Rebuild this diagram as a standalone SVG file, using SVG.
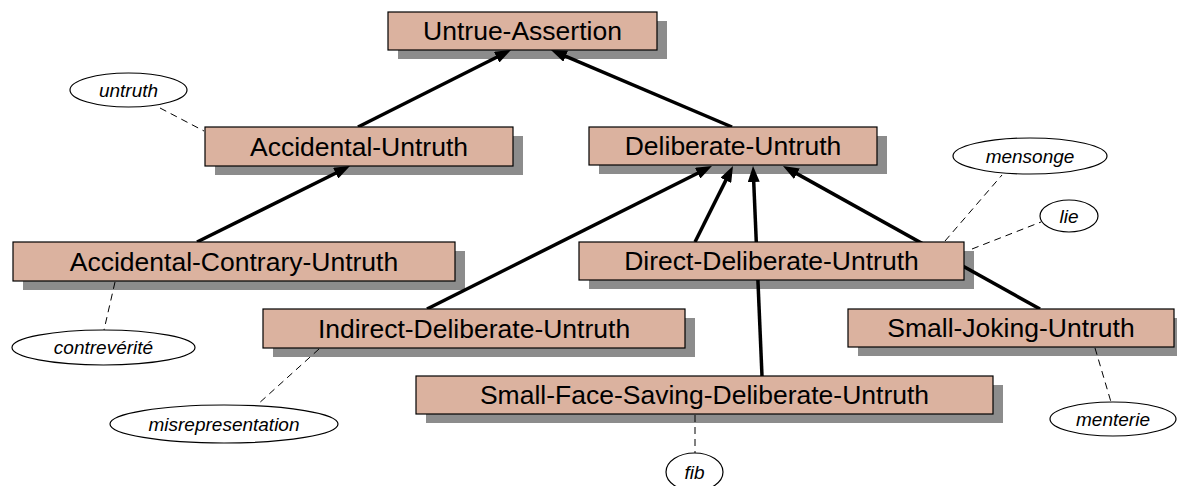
<svg xmlns="http://www.w3.org/2000/svg" width="1177" height="486" viewBox="0 0 1177 486">
  <style>
    .shadow { fill: #8c8c8c; }
    .box { fill: #dbb29f; stroke: #000; stroke-width: 1.2; }
    .label { font-family: "Liberation Sans", Arial, sans-serif; font-size: 26.5px; fill: #000; text-anchor: middle; }
    .isa { stroke: #000; stroke-width: 3.5; fill: none; marker-end: url(#head); }
    .gloss { stroke: #000; stroke-width: 1; stroke-dasharray: 7 5; fill: none; }
    .term { fill: #fff; stroke: #000; stroke-width: 1.2; }
    .term-text { font-family: "Liberation Sans", Arial, sans-serif; font-size: 19px; font-style: italic; fill: #000; text-anchor: middle; }
  </style>
  <defs>
    <marker id="head" markerUnits="userSpaceOnUse" viewBox="0 0 16 12" markerWidth="16" markerHeight="12" refX="10" refY="6" orient="auto">
      <path d="M0,0 L16,6 L0,12 z" fill="#000"/>
    </marker>
  </defs>

  <rect width="1177" height="486" fill="#fff"/>

  <!-- drop shadows sit beneath the connectors -->
  <g id="shadows">
    <rect class="shadow" x="398" y="21" width="269" height="38"/>
    <rect class="shadow" x="215" y="136" width="308" height="39"/>
    <rect class="shadow" x="599" y="136" width="288" height="38"/>
    <rect class="shadow" x="23" y="251" width="442" height="39"/>
    <rect class="shadow" x="589" y="251" width="385" height="38"/>
    <rect class="shadow" x="273" y="318" width="422" height="39"/>
    <rect class="shadow" x="858" y="318" width="326" height="38"/>
    <rect class="shadow" x="426" y="385" width="577" height="38"/>
  </g>

  <g id="connectors">
    <!-- subclass links -->
    <line class="isa" x1="358" y1="127" x2="505.6" y2="52.7"/>
    <line class="isa" x1="732" y1="127" x2="556.5" y2="52.3"/>
    <line class="isa" x1="197" y1="242" x2="344.6" y2="168.7"/>
    <line class="isa" x1="427" y1="309" x2="706.6" y2="168.7"/>
    <line class="isa" x1="695" y1="242" x2="730.3" y2="171.4"/>
    <line class="isa" x1="762" y1="376" x2="753.3" y2="172"/>
    <line class="isa" x1="1040" y1="309" x2="788.2" y2="168.9"/>
    <!-- word links -->
    <line class="gloss" x1="160" y1="108" x2="204" y2="131"/>
    <line class="gloss" x1="115" y1="282" x2="104" y2="330"/>
    <line class="gloss" x1="319" y1="349" x2="257" y2="405"/>
    <line class="gloss" x1="695" y1="415" x2="695" y2="453"/>
    <line class="gloss" x1="1095" y1="348" x2="1111" y2="402"/>
    <line class="gloss" x1="945" y1="241" x2="1002" y2="175"/>
    <line class="gloss" x1="972" y1="249" x2="1041" y2="222"/>
  </g>

  <g id="untrue-assertion">
    <rect class="box" x="388" y="12" width="269" height="38"/>
    <text class="label" x="522.5" y="40">Untrue-Assertion</text>
  </g>
  <g id="accidental-untruth">
    <rect class="box" x="205" y="127" width="308" height="39"/>
    <text class="label" x="359" y="156">Accidental-Untruth</text>
  </g>
  <g id="deliberate-untruth">
    <rect class="box" x="589" y="127" width="288" height="38"/>
    <text class="label" x="733" y="155">Deliberate-Untruth</text>
  </g>
  <g id="accidental-contrary-untruth">
    <rect class="box" x="13" y="242" width="442" height="39"/>
    <text class="label" x="234" y="271">Accidental-Contrary-Untruth</text>
  </g>
  <g id="direct-deliberate-untruth">
    <rect class="box" x="579" y="242" width="385" height="38"/>
    <text class="label" x="771.5" y="270">Direct-Deliberate-Untruth</text>
  </g>
  <g id="indirect-deliberate-untruth">
    <rect class="box" x="263" y="309" width="422" height="39"/>
    <text class="label" x="474" y="338">Indirect-Deliberate-Untruth</text>
  </g>
  <g id="small-joking-untruth">
    <rect class="box" x="848" y="309" width="326" height="38"/>
    <text class="label" x="1011" y="337">Small-Joking-Untruth</text>
  </g>
  <g id="small-face-saving-deliberate-untruth">
    <rect class="box" x="416" y="376" width="577" height="38"/>
    <text class="label" x="704.5" y="404">Small-Face-Saving-Deliberate-Untruth</text>
  </g>

  <g id="word-untruth">
    <ellipse class="term" cx="128.5" cy="90" rx="58.5" ry="17"/>
    <text class="term-text" x="128.5" y="96.5">untruth</text>
  </g>
  <g id="word-contreverite">
    <ellipse class="term" cx="103.5" cy="347.5" rx="91.5" ry="17.5"/>
    <text class="term-text" x="103.5" y="354">contrevérité</text>
  </g>
  <g id="word-misrepresentation">
    <ellipse class="term" cx="224" cy="424" rx="114" ry="19"/>
    <text class="term-text" x="224" y="430.5">misrepresentation</text>
  </g>
  <g id="word-fib">
    <ellipse class="term" cx="694.5" cy="472" rx="28.5" ry="19"/>
    <text class="term-text" x="694.5" y="478.5">fib</text>
  </g>
  <g id="word-menterie">
    <ellipse class="term" cx="1113" cy="419" rx="63" ry="17"/>
    <text class="term-text" x="1113" y="425.5">menterie</text>
  </g>
  <g id="word-mensonge">
    <ellipse class="term" cx="1030" cy="156" rx="77" ry="18"/>
    <text class="term-text" x="1030" y="162.5">mensonge</text>
  </g>
  <g id="word-lie">
    <ellipse class="term" cx="1069" cy="216" rx="29" ry="16"/>
    <text class="term-text" x="1069" y="222.5">lie</text>
  </g>
</svg>
